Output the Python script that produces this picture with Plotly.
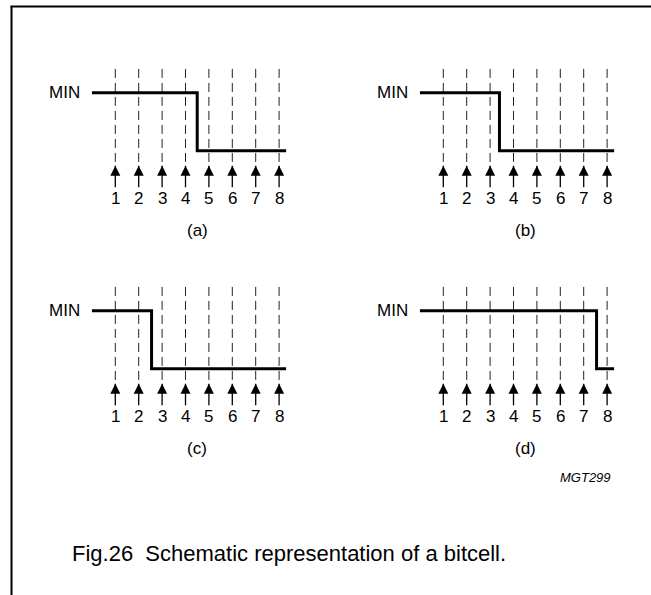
import plotly.graph_objects as go

# ---- data ----
bits = [1, 2, 3, 4, 5, 6, 7, 8]
bit_labels = ["1", "2", "3", "4", "5", "6", "7", "8"]
panel_labels = ["(a)", "(b)", "(c)", "(d)"]
transitions = [4.5, 3.4, 2.55, 7.55]      # bit position where signal drops
signal_start = 0.0
signal_end = 8.3
level_high = 1
level_low = 0
level_label = "MIN"
dash_top = 1.41
arrow_tip = -0.26
arrow_tail = -0.63
number_y = -0.82
panel_label_y = -1.38
caption = "Fig.26  Schematic representation of a bitcell."
code_label = "MGT299"

FONT = "Liberation Sans, Arial, sans-serif"
W, H = 651, 595

fig = go.Figure()

# axis domains (pixel layout converted to paper fractions)
col_dom = [[21.7 / W, 302.5 / W], [349.7 / W, 630.5 / W]]
row_dom = [[1 - 266.7 / H, 1 - 34.7 / H], [1 - 484.7 / H, 1 - 252.7 / H]]

for i in range(4):
    r, c = divmod(i, 2)
    n = "" if i == 0 else str(i + 1)
    xa, ya = "x" + n, "y" + n
    fig.update_layout(**{
        "xaxis" + n: dict(domain=col_dom[c], range=[-3, 9], visible=False,
                          anchor=ya, fixedrange=True),
        "yaxis" + n: dict(domain=row_dom[r], range=[-2, 2], visible=False,
                          anchor=xa, fixedrange=True),
    })
    # dashed sampling lines
    dx, dy = [], []
    for b in bits:
        dx += [b, b, None]
        dy += [dash_top, arrow_tip, None]
    fig.add_trace(go.Scatter(x=dx, y=dy, mode="lines", xaxis=xa, yaxis=ya,
                             line=dict(color="#222", width=1, dash="9px,5px"),
                             hoverinfo="skip", showlegend=False))
    # arrow stems
    sx, sy = [], []
    for b in bits:
        sx += [b, b, None]
        sy += [arrow_tip, arrow_tail, None]
    fig.add_trace(go.Scatter(x=sx, y=sy, mode="lines", xaxis=xa, yaxis=ya,
                             line=dict(color="black", width=1.3),
                             hoverinfo="skip", showlegend=False))
    # arrow heads
    fig.add_trace(go.Scatter(x=bits, y=[arrow_tip] * len(bits), mode="markers",
                             xaxis=xa, yaxis=ya,
                             marker=dict(symbol="arrow-up", size=10, color="black",
                                         line=dict(width=0)),
                             hoverinfo="skip", showlegend=False))
    # signal
    t = transitions[i]
    fig.add_trace(go.Scatter(x=[signal_start, t, t, signal_end],
                             y=[level_high, level_high, level_low, level_low],
                             mode="lines", xaxis=xa, yaxis=ya,
                             line=dict(color="black", width=3),
                             hoverinfo="skip", showlegend=False))
    # bit numbers
    for b, lab in zip(bits, bit_labels):
        fig.add_annotation(x=b, y=number_y, xref=xa, yref=ya, text=lab,
                           showarrow=False, font=dict(family=FONT, size=17, color="black"))
    # MIN label
    fig.add_annotation(x=signal_start - 0.41, y=level_high, xref=xa, yref=ya,
                       text=level_label, showarrow=False, xanchor="right",
                       font=dict(family=FONT, size=17, color="black"))
    # panel label
    fig.add_annotation(x=4.5, y=panel_label_y, xref=xa, yref=ya, text=panel_labels[i],
                       showarrow=False, font=dict(family=FONT, size=17, color="black"))

# code label
fig.add_annotation(x=8.25, y=-1.88, xref="x4", yref="y4", text=code_label,
                   showarrow=False, xanchor="right", yanchor="middle",
                   font=dict(family=FONT, size=13, color="black", style="italic"))

# caption
fig.add_annotation(x=289 / W, y=1 - 553 / H, xref="paper", yref="paper", text=caption,
                   showarrow=False, xanchor="center", yanchor="middle",
                   font=dict(family=FONT, size=22, color="black"))

# frame
fig.add_shape(type="line", xref="paper", yref="paper",
              x0=10.5 / W, x1=1.0, y0=1 - 6.5 / H, y1=1 - 6.5 / H,
              line=dict(color="black", width=2))
fig.add_shape(type="line", xref="paper", yref="paper",
              x0=11.5 / W, x1=11.5 / W, y0=0, y1=1 - 6 / H,
              line=dict(color="black", width=2))

fig.update_layout(width=W, height=H, margin=dict(l=0, r=0, t=0, b=0),
                  paper_bgcolor="white", plot_bgcolor="rgba(0,0,0,0)",
                  showlegend=False)

fig.write_html("out.html", config={"displayModeBar": False},
               post_script="document.body.style.margin='0';document.body.style.padding='0';")
